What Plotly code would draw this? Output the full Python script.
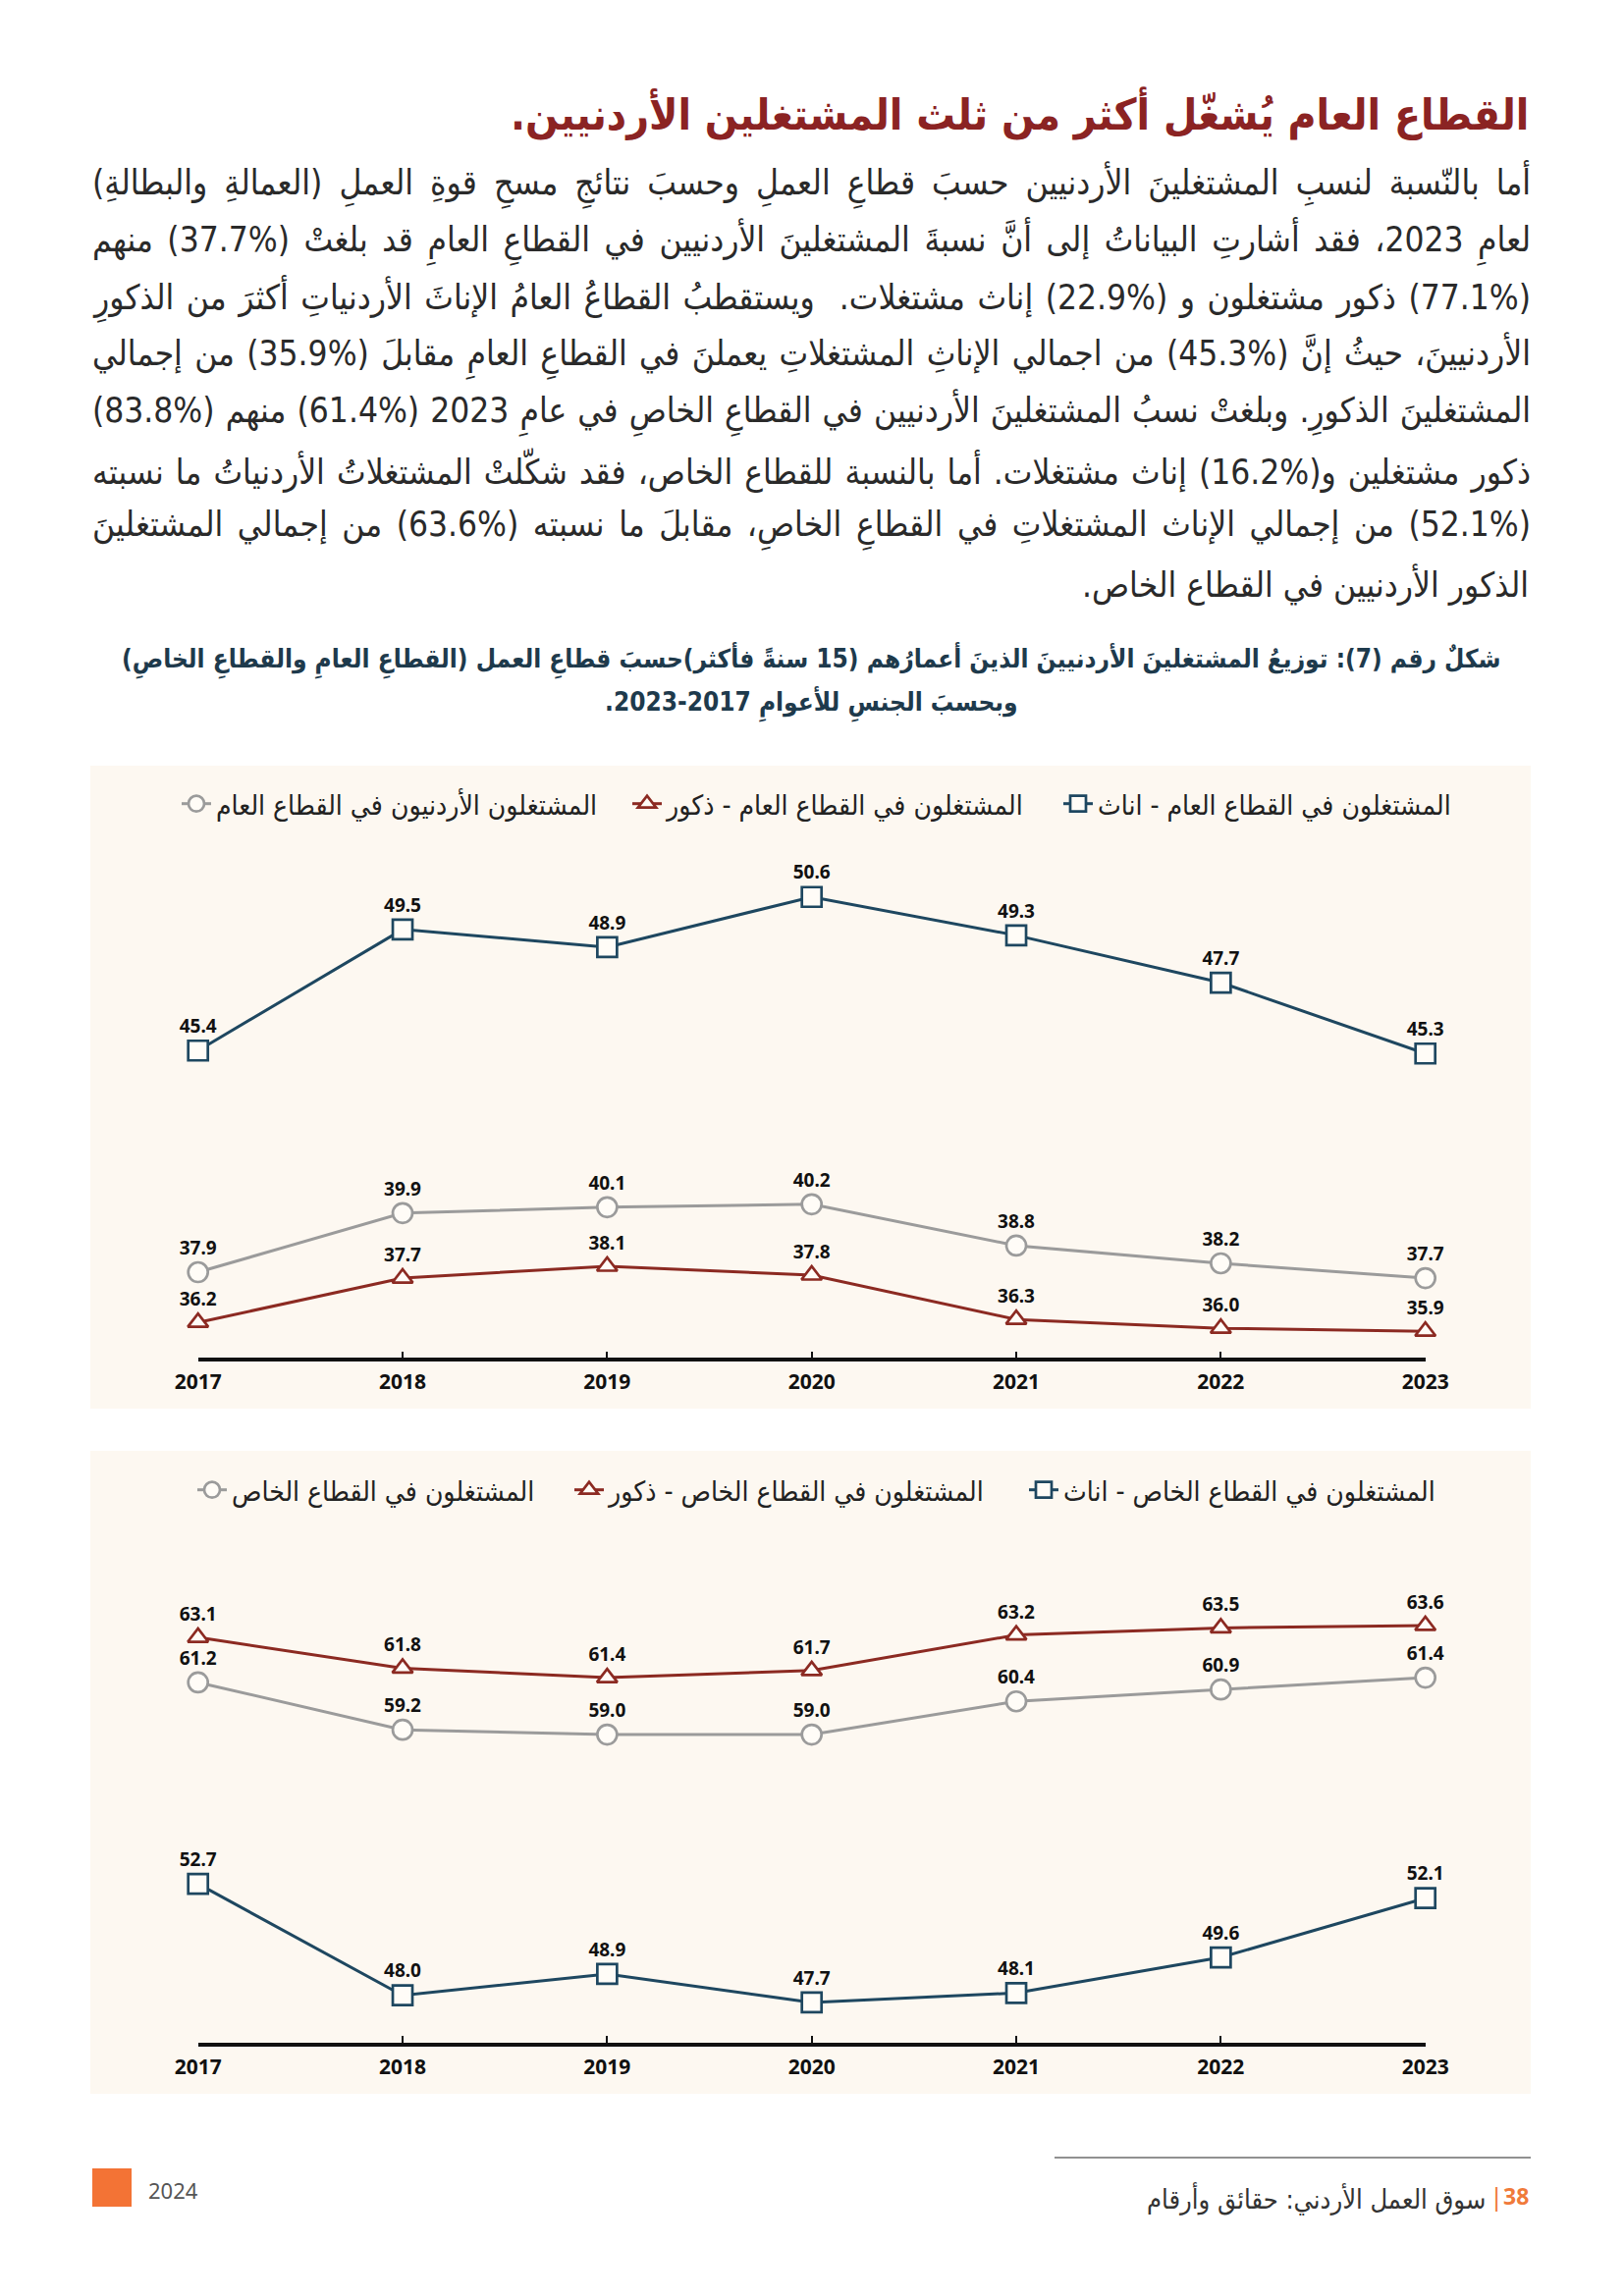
import re
import plotly.graph_objects as go

# ---------------- data ----------------
years = [2017, 2018, 2019, 2020, 2021, 2022, 2023]
year_labels = ["2017", "2018", "2019", "2020", "2021", "2022", "2023"]

# public sector
pub_female = [45.4, 49.5, 48.9, 50.6, 49.3, 47.7, 45.3]
pub_total = [37.9, 39.9, 40.1, 40.2, 38.8, 38.2, 37.7]
pub_male = [36.2, 37.7, 38.1, 37.8, 36.3, 36.0, 35.9]

# private sector
priv_male = [63.1, 61.8, 61.4, 61.7, 63.2, 63.5, 63.6]
priv_total = [61.2, 59.2, 59.0, 59.0, 60.4, 60.9, 61.4]
priv_female = [52.7, 48.0, 48.9, 47.7, 48.1, 49.6, 52.1]

name_pub_total = "المشتغلون الأردنيون في القطاع العام"
name_pub_male = "المشتغلون في القطاع العام - ذكور"
name_pub_female = "المشتغلون في القطاع العام - اناث"
name_priv_total = "المشتغلون في القطاع الخاص"
name_priv_male = "المشتغلون في القطاع الخاص - ذكور"
name_priv_female = "المشتغلون في القطاع الخاص - اناث"

title_text = "القطاع العام يُشغّل أكثر من ثلث المشتغلين الأردنيين."
para_lines = [
    "أما بالنّسبة لنسبِ المشتغلينَ الأردنيين حسبَ قطاعِ العملِ وحسبَ نتائجِ مسحِ قوةِ العملِ (العمالةِ والبطالةِ)",
    "لعامِ 2023، فقد أشارتِ البياناتُ إلى أنَّ نسبةَ المشتغلينَ الأردنيين في القطاعِ العامِ قد بلغتْ (37.7%) منهم",
    "(77.1%) ذكور مشتغلون و (22.9%) إناث مشتغلات.  ويستقطبُ القطاعُ العامُ الإناثَ الأردنياتِ أكثرَ من الذكورِ",
    "الأردنيينَ، حيثُ إنَّ (45.3%) من اجمالي الإناثِ المشتغلاتِ يعملنَ في القطاعِ العامِ مقابلَ (35.9%) من إجمالي",
    "المشتغلينَ الذكورِ. وبلغتْ نسبُ المشتغلينَ الأردنيين في القطاعِ الخاصِ في عامِ 2023 (61.4%) منهم (83.8%)",
    "ذكور مشتغلين و(16.2%) إناث مشتغلات. أما بالنسبة للقطاع الخاص، فقد شكّلتْ المشتغلاتُ الأردنياتُ ما نسبته",
    "(52.1%) من إجمالي الإناث المشتغلاتِ في القطاعِ الخاصِ، مقابلَ ما نسبته (63.6%) من إجمالي المشتغلينَ",
    "الذكور الأردنيين في القطاع الخاص.",
]
caption_lines = [
    "شكلٌ رقم (7): توزيعُ المشتغلينَ الأردنيينَ الذينَ أعمارُهم (15 سنةً فأكثر)حسبَ قطاعِ العمل (القطاعِ العامِ والقطاعِ الخاصِ)",
    "وبحسبَ الجنسِ للأعوامِ 2017-2023.",
]
footer_title = "سوق العمل الأردني: حقائق وأرقام"
footer_page = "38"
footer_year = "2024"

# ---------------- styling ----------------
W, H = 1654, 2339
NAVY = "#1E4760"
RED = "#8C2A22"
GREY = "#9B9B9B"
PANEL = "#FDF8F1"
MFILL = "#FFFCF7"
AR_FONT = "DejaVu Sans Condensed, DejaVu Sans, sans-serif"
NUM_FONT = "Noto Sans, DejaVu Sans, sans-serif"
TEXT_LEFT, TEXT_RIGHT = 94, 1559


def px(x):
    return x / W


def py(y):
    return 1 - y / H


def rtl(s):
    return "\u202B" + s + "\u202C"


def ltr_pct(s):
    # keep "37.7%" reading left-to-right inside the right-to-left line
    return re.sub(r"(\d+(?:\.\d+)?%)", "\u202A\\1\u202C", s)


fig = go.Figure()


def add_series(xa, ya, leg, name, vals, color, symbol, size, lw):
    fig.add_trace(go.Scatter(
        x=years, y=vals, xaxis=xa, yaxis=ya, legend=leg,
        name=name, mode="lines+markers+text",
        line=dict(color=color, width=lw),
        marker=dict(symbol=symbol, size=size, color=MFILL,
                    line=dict(color=color, width=2.7)),
        text=[f"{v:.1f}" for v in vals], textposition="top center",
        textfont=dict(family=NUM_FONT, size=19, color="#111111", weight=700),
        cliponaxis=False, hoverinfo="skip",
    ))


# chart 1 (public): legend order left->right circle, triangle, square
add_series("x", "y", "legend", name_pub_total, pub_total, GREY, "circle", 20, 3)
add_series("x", "y", "legend", name_pub_male, pub_male, RED, "triangle-up", 18, 3)
add_series("x", "y", "legend", name_pub_female, pub_female, NAVY, "square", 20, 3)
# chart 2 (private)
add_series("x2", "y2", "legend2", name_priv_total, priv_total, GREY, "circle", 20, 3)
add_series("x2", "y2", "legend2", name_priv_male, priv_male, RED, "triangle-up", 18, 3)
add_series("x2", "y2", "legend2", name_priv_female, priv_female, NAVY, "square", 20, 3)

# legend spacing per entry
lw1 = [414, 394, 380]
lw2 = [339, 418, 380]
for i in range(3):
    fig.data[i].legendwidth = lw1[i]
    fig.data[3 + i].legendwidth = lw2[i]

xdom = [px(201.7), px(1451.7)]
xaxis_common = dict(
    range=[2017, 2023], domain=xdom, tickmode="array", tickvals=years,
    ticktext=year_labels, showline=True, linecolor="#111111", linewidth=3.5,
    ticks="inside", ticklen=7, tickwidth=2, tickcolor="#111111",
    showgrid=False, zeroline=False, fixedrange=True, automargin=False,
    tickfont=dict(family=NUM_FONT, size=21, color="#111111", weight=700),
    ticklabelstandoff=3,
)
fig.update_layout(
    xaxis=dict(anchor="y", **xaxis_common),
    yaxis=dict(anchor="x", domain=[py(1383.3), py(871.6)], range=[35, 52],
               visible=False, showgrid=False, zeroline=False, automargin=False),
    xaxis2=dict(anchor="y2", **xaxis_common),
    yaxis2=dict(anchor="x2", domain=[py(2081), py(1598)], range=[46, 66],
                visible=False, showgrid=False, zeroline=False, automargin=False),
)

legend_common = dict(
    orientation="h", xanchor="left", yanchor="middle",
    bgcolor="rgba(0,0,0,0)", font=dict(family=AR_FONT, size=28, color="#222222"),
    entrywidthmode="pixels", itemclick=False, itemdoubleclick=False,
    traceorder="normal",
)
fig.update_layout(
    legend=dict(x=px(180), y=py(819), **legend_common),
    legend2=dict(x=px(196), y=py(1518), **legend_common),
)

shapes = [
    dict(type="rect", xref="paper", yref="paper", x0=px(92), x1=px(1559),
         y0=py(780), y1=py(1435), fillcolor=PANEL, line=dict(width=0), layer="below"),
    dict(type="rect", xref="paper", yref="paper", x0=px(92), x1=px(1559),
         y0=py(1478), y1=py(2133), fillcolor=PANEL, line=dict(width=0), layer="below"),
    dict(type="line", xref="paper", yref="paper", x0=px(1074), x1=px(1559),
         y0=py(2198), y1=py(2198), line=dict(color="#6d6d6d", width=1.5)),
    dict(type="rect", xref="paper", yref="paper", x0=px(94), x1=px(134),
         y0=py(2248), y1=py(2209), fillcolor="#F37335", line=dict(width=0)),
]

annotations = []
annotations.append(dict(
    text=rtl("<b>" + title_text + "</b>"), x=px(TEXT_RIGHT), y=py(116),
    xref="paper", yref="paper", xanchor="right", yanchor="middle", showarrow=False,
    font=dict(family=AR_FONT, size=44, color="#8B2323"),
))
for i, line in enumerate(para_lines):
    annotations.append(dict(
        text=rtl(ltr_pct(line)), x=px(TEXT_RIGHT), y=py(188 + 58.2 * i),
        xref="paper", yref="paper", xanchor="right", yanchor="middle", showarrow=False,
        font=dict(family=AR_FONT, size=35, color="#2a2a2a"),
    ))
for i, line in enumerate(caption_lines):
    annotations.append(dict(
        text=rtl("<b>" + line + "</b>"), x=px(826.5), y=py(673 + 44.5 * i),
        xref="paper", yref="paper", xanchor="center", yanchor="middle", showarrow=False,
        font=dict(family=AR_FONT, size=26, color="#1E3A4C"),
    ))
annotations.append(dict(
    text="<b>" + footer_page + "</b>", x=px(1559), y=py(2237),
    xref="paper", yref="paper", xanchor="right", yanchor="middle", showarrow=False,
    font=dict(family=NUM_FONT, size=23, color="#F07A3A"),
))
annotations.append(dict(
    text="|", x=px(1524), y=py(2237),
    xref="paper", yref="paper", xanchor="center", yanchor="middle", showarrow=False,
    font=dict(family=NUM_FONT, size=26, color="#F07A3A"),
))
annotations.append(dict(
    text=rtl(footer_title), x=px(1515), y=py(2239),
    xref="paper", yref="paper", xanchor="right", yanchor="middle", showarrow=False,
    font=dict(family=AR_FONT, size=27, color="#333333"),
))
annotations.append(dict(
    text=footer_year, x=px(149), y=py(2231),
    xref="paper", yref="paper", xanchor="left", yanchor="middle", showarrow=False,
    font=dict(family=NUM_FONT, size=22, color="#555555"),
))

fig.update_layout(
    width=W, height=H, autosize=False,
    margin=dict(l=0, r=0, t=0, b=0, pad=0, autoexpand=False),
    paper_bgcolor="white", plot_bgcolor="rgba(0,0,0,0)",
    shapes=shapes, annotations=annotations, showlegend=True,
)

# justify the paragraph lines (all but the last) like the printed page
n_just = len(para_lines) - 1
post = """
document.body.style.margin = '0';
(function () {
  var target = %d, right = %d, first = 1, last = %d;
  document.querySelectorAll('g.annotation').forEach(function (g) {
    var idx = +g.getAttribute('data-index');
    if (idx < first || idx > last) return;
    var t = g.querySelector('text.annotation-text');
    if (!t) return;
    var n = (t.textContent.match(/ /g) || []).length;
    var w = t.getBoundingClientRect().width;
    if (n > 0 && w < target) {
      t.style.wordSpacing = ((target - w) / n) + 'px';
    }
    var r = t.getBoundingClientRect();
    t.setAttribute('transform', 'translate(' + (right - r.right) + ',0)');
  });
})();
""" % (TEXT_RIGHT - TEXT_LEFT, TEXT_RIGHT, n_just)

fig.write_html("out.html", config={"displayModeBar": False, "responsive": False},
               post_script=post)
